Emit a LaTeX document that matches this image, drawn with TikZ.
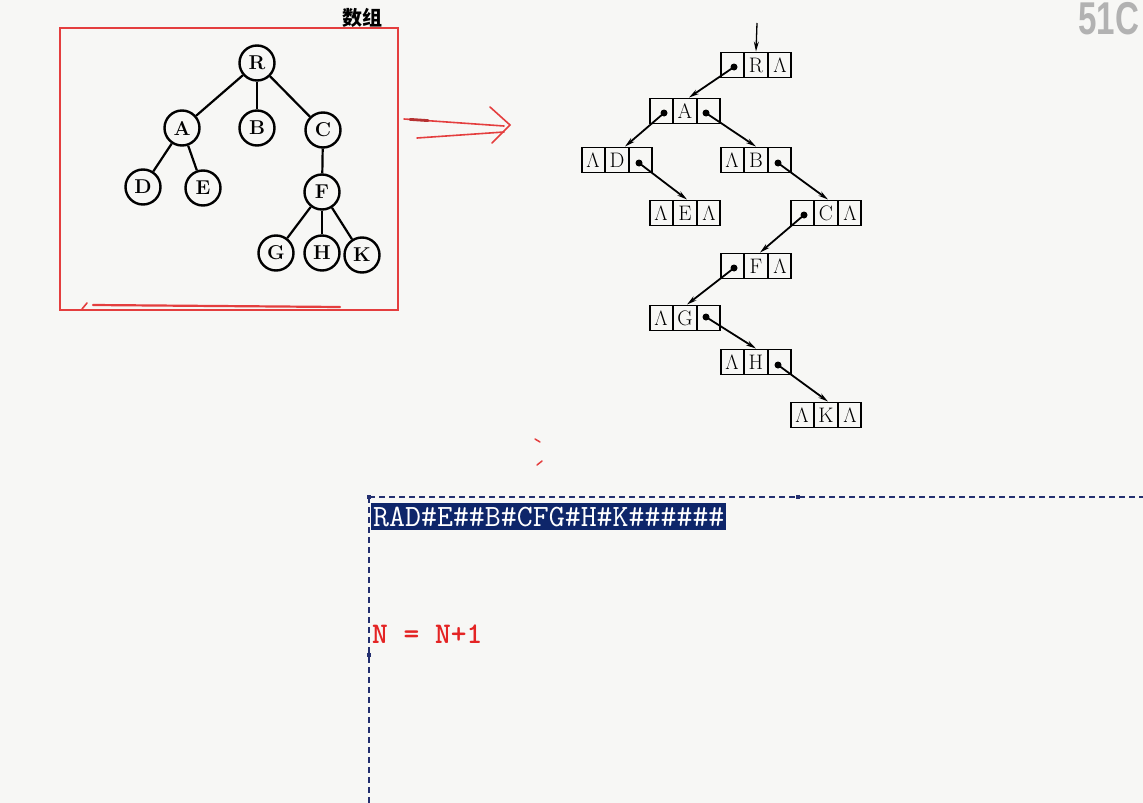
\documentclass[tikz,border=0pt]{standalone}
\usepackage{fontspec}
\newfontfamily\cjkfont{Noto Sans CJK SC}
\newfontfamily\logofont{Liberation Sans}[FakeStretch=0.72]
\usetikzlibrary{arrows.meta,shapes.multipart,calc}

\definecolor{pagebg}{RGB}{247,247,245}
\definecolor{penred}{RGB}{228,62,62}
\definecolor{selnavy}{RGB}{14,38,106}
\definecolor{guidenavy}{RGB}{36,48,112}
\definecolor{exprred}{RGB}{228,36,36}
\definecolor{logogray}{RGB}{178,178,178}

\newcommand{\lcell}[1]{\makebox[22pt]{\rule[-5.5pt]{0pt}{25pt}#1}}
\newcommand{\nil}{$\Lambda$}

\begin{document}
\begin{tikzpicture}[x=1pt, y=-1pt,
		tnode/.style={circle, draw, line width=2.4pt, minimum size=35pt, inner sep=0pt,
			font=\fontsize{20}{20}\selectfont\bfseries},
		tedge/.style={line width=2.2pt},
		lnode/.style={rectangle split, rectangle split horizontal, rectangle split parts=3,
			draw, line width=1.9pt, inner sep=0pt, font=\fontsize{21}{21}\selectfont},
		ptr/.style={circle, fill, inner sep=0pt, minimum size=7pt},
		link/.style={line width=1.8pt, -{Stealth[length=10pt, width=5pt]}},
		pen/.style={draw=penred, line width=1.6pt, line cap=round},
		guide/.style={draw=guidenavy, line width=1.2pt, dash pattern=on 6pt off 4pt},
		handle/.style={rectangle, fill=guidenavy, inner sep=0pt, minimum size=4pt},
		sel/.style={fill=selnavy, text=white, inner xsep=2pt, inner ysep=0pt, minimum height=27pt,
			font=\ttfamily\fontsize{31}{31}\selectfont},
		expr/.style={text=exprred, inner sep=0pt,
			font=\ttfamily\bfseries\fontsize{30}{30}\selectfont}
	]
		\clip (0,0) rectangle (1143,803);
		\fill[pagebg] (0,0) rectangle (1143,803);
		% watermark + title
		\node[anchor=north west, inner sep=0pt, text=logogray,
			font=\logofont\bfseries\fontsize{46}{46}\selectfont] (wm) at (1078,2) {51C};
		\node[font=\cjkfont\bfseries\fontsize{20}{20}\selectfont] (title) at (362,18) {数组};
		% red frame round the tree
		\draw[pen, line width=1.4pt, line cap=butt] (60,28) rectangle (398,310);
		\draw[pen, line width=2.2pt] (93,305) -- (340,307);
		\draw[pen] (82,309) -- (87,303);
		% tree
		\node[tnode] (tR) at (257,63) {R};
		\node[tnode] (tA) at (182,128) {A};
		\node[tnode] (tB) at (257,128) {B};
		\node[tnode] (tC) at (323,130) {C};
		\node[tnode] (tD) at (143,187) {D};
		\node[tnode] (tE) at (203,188) {E};
		\node[tnode] (tF) at (322,192) {F};
		\node[tnode] (tG) at (276,253) {G};
		\node[tnode] (tH) at (322,253) {H};
		\node[tnode] (tK) at (362,255) {K};
		\draw[tedge] (tR) -- (tA);
		\draw[tedge] (tR) -- (tB);
		\draw[tedge] (tR) -- (tC);
		\draw[tedge] (tA) -- (tD);
		\draw[tedge] (tA) -- (tE);
		\draw[tedge] (tC) -- (tF);
		\draw[tedge] (tF) -- (tG);
		\draw[tedge] (tF) -- (tH);
		\draw[tedge] (tF) -- (tK);
		% hand drawn double arrow
		\coordinate (dA1) at (404,119); \coordinate (dA2) at (504,126);
		\coordinate (dB1) at (417,138); \coordinate (dB2) at (504,132);
		\coordinate (dT1) at (490,107); \coordinate (dTip) at (510,125); \coordinate (dT2) at (492,143);
		\draw[pen] (dA1) -- (dA2);
		\draw[pen] (dB1) -- (dB2);
		\draw[pen] (dT1) -- (dTip) -- (dT2);
		\draw[pen, line width=2.8pt, draw=penred!80!black] (410,119.4) -- (428,120.6);
		% binary linked list
		\node[lnode] (lR) at (756,65) {\nodepart{one}\lcell{}\nodepart{two}\lcell{R}\nodepart{three}\lcell{\nil}};
		\node[lnode] (lA) at (685,111) {\nodepart{one}\lcell{}\nodepart{two}\lcell{A}\nodepart{three}\lcell{}};
		\node[lnode] (lD) at (617,160) {\nodepart{one}\lcell{\nil}\nodepart{two}\lcell{D}\nodepart{three}\lcell{}};
		\node[lnode] (lB) at (756,160) {\nodepart{one}\lcell{\nil}\nodepart{two}\lcell{B}\nodepart{three}\lcell{}};
		\node[lnode] (lE) at (685,213) {\nodepart{one}\lcell{\nil}\nodepart{two}\lcell{E}\nodepart{three}\lcell{\nil}};
		\node[lnode] (lC) at (826,213) {\nodepart{one}\lcell{}\nodepart{two}\lcell{C}\nodepart{three}\lcell{\nil}};
		\node[lnode] (lF) at (756,266) {\nodepart{one}\lcell{}\nodepart{two}\lcell{F}\nodepart{three}\lcell{\nil}};
		\node[lnode] (lG) at (685,318) {\nodepart{one}\lcell{\nil}\nodepart{two}\lcell{G}\nodepart{three}\lcell{}};
		\node[lnode] (lH) at (756,362) {\nodepart{one}\lcell{\nil}\nodepart{two}\lcell{H}\nodepart{three}\lcell{}};
		\node[lnode] (lK) at (826,415) {\nodepart{one}\lcell{\nil}\nodepart{two}\lcell{K}\nodepart{three}\lcell{\nil}};
		% pointer dots
		\node[ptr] (pR) at ($(lR.center)+(-22,2)$) {};
		\node[ptr] (pAl) at ($(lA.center)+(-21,2)$) {};
		\node[ptr] (pAr) at ($(lA.center)+(21,2)$) {};
		\node[ptr] (pD) at ($(lD.center)+(22,3)$) {};
		\node[ptr] (pB) at ($(lB.center)+(22,3)$) {};
		\node[ptr] (pC) at ($(lC.center)+(-22,2)$) {};
		\node[ptr] (pF) at ($(lF.center)+(-22,2)$) {};
		\node[ptr] (pG) at ($(lG.center)+(21,-1)$) {};
		\node[ptr] (pH) at ($(lH.center)+(22,3)$) {};
		% links
		\coordinate (rin) at (757,23);
		\draw[link, line width=1.3pt] (rin) -- (lR.north);
		\draw[link] (pR.center) -- ($(lA.north)+(4,0)$);
		\draw[link] (pAl.center) -- ($(lD.north)+(8,0)$);
		\draw[link] (pAr.center) -- (lB.north);
		\draw[link] (pD.center) -- ($(lE.north)+(2,0)$);
		\draw[link] (pB.center) -- ($(lC.north)+(2,0)$);
		\draw[link] (pC.center) -- ($(lF.north)+(4,0)$);
		\draw[link] (pF.center) -- ($(lG.north)+(2,0)$);
		\draw[link] (pG.center) -- (lH.north);
		\draw[link] (pH.center) -- ($(lK.north)+(2,0)$);
		% stray pen marks
		\draw[pen, line width=1.5pt] (535,439) -- (540,442);
		\draw[pen, line width=1.5pt] (537,465) -- (542,461);
		% editor area
		\coordinate (gTL) at (369,497);
		\coordinate (gTR) at (1143,497);
		\coordinate (gBL) at (369,803);
		\draw[guide] (gTL) -- (gTR);
		\draw[guide] (gTL) -- (gBL);
		\node[handle] (h1) at (gTL) {};
		\node[handle] (h2) at (798,497) {};
		\node[handle] (h3) at (369,655) {};
		\node[sel, anchor=west] (preord) at (371,516.5) {RAD\#E\#\#B\#CFG\#H\#K\#\#\#\#\#\#};
		\node[expr, anchor=base west] (incr) at (372,643) {N = N+1};
	\end{tikzpicture}
\end{document}
